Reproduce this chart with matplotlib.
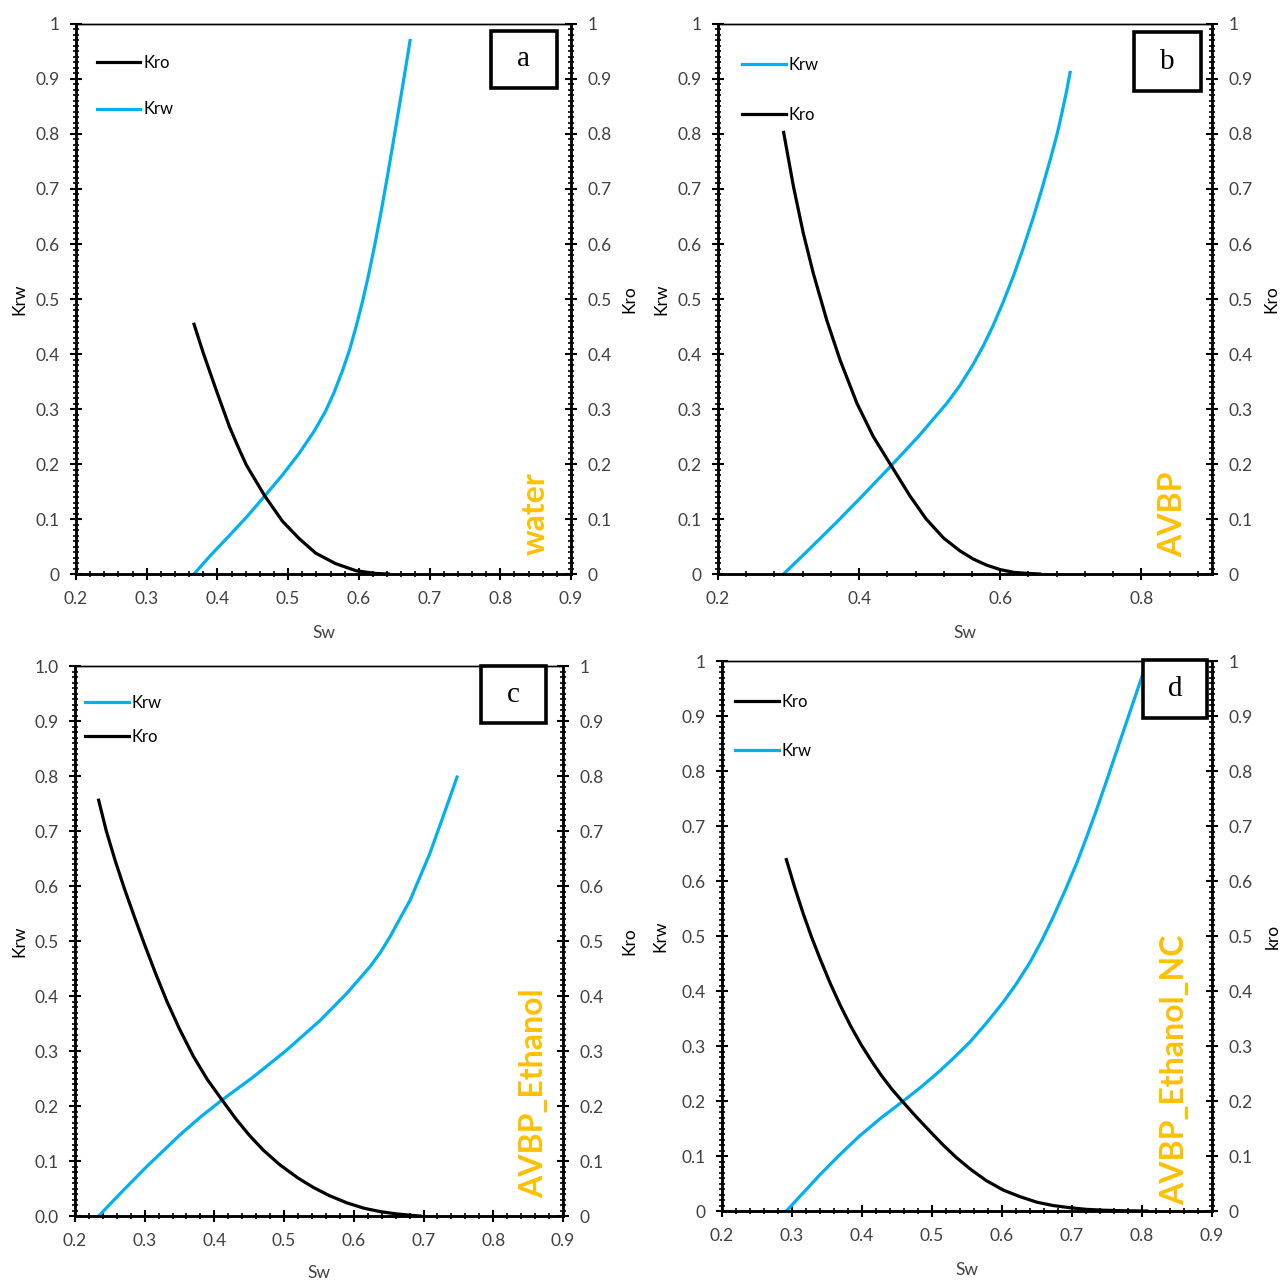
import matplotlib
matplotlib.use("Agg")
import matplotlib.pyplot as plt
from matplotlib.patches import Rectangle
from matplotlib.ticker import MultipleLocator, FormatStrFormatter, FuncFormatter

plt.rcParams['font.family'] = ['Lato', 'DejaVu Sans']

BLUE = '#00B0F0'
GOLD = '#FFC000'
INK = '#404040'

# (a) water
sw_krw_a = [0.367, 0.389, 0.417, 0.443, 0.467, 0.492, 0.516, 0.537, 0.553, 0.565,
            0.577, 0.587, 0.596, 0.605, 0.614, 0.623, 0.632, 0.641, 0.650, 0.659,
            0.668, 0.6725]
krw_a = [0.0, 0.032, 0.070, 0.106, 0.142, 0.180, 0.220, 0.260, 0.296, 0.330,
         0.370, 0.408, 0.449, 0.494, 0.545, 0.601, 0.662, 0.727, 0.795, 0.864,
         0.934, 0.970]
sw_kro_a = [0.367, 0.380, 0.399, 0.417, 0.429, 0.441, 0.467, 0.492, 0.516, 0.539,
            0.567, 0.596, 0.624, 0.642]
kro_a = [0.454, 0.402, 0.332, 0.268, 0.232, 0.198, 0.142, 0.096, 0.064, 0.038,
         0.019, 0.006, 0.001, 0.0]

# (b) AVBP
sw_krw_b = [0.293, 0.330, 0.368, 0.406, 0.444, 0.484, 0.524, 0.543, 0.562, 0.576,
            0.590, 0.604, 0.619, 0.633, 0.647, 0.659, 0.671, 0.681, 0.688, 0.694,
            0.699]
krw_b = [0.0, 0.046, 0.094, 0.144, 0.195, 0.250, 0.310, 0.343, 0.382, 0.415,
         0.452, 0.494, 0.543, 0.594, 0.649, 0.700, 0.754, 0.802, 0.842, 0.878,
         0.912]
sw_kro_b = [0.293, 0.307, 0.321, 0.335, 0.354, 0.373, 0.397, 0.420, 0.444, 0.472,
            0.495, 0.520, 0.543, 0.562, 0.581, 0.600, 0.619, 0.640, 0.656]
kro_b = [0.803, 0.704, 0.619, 0.547, 0.462, 0.389, 0.310, 0.250, 0.200, 0.142,
         0.100, 0.065, 0.042, 0.027, 0.016, 0.008, 0.003, 0.001, 0.0]

# (c) AVBP_Ethanol
sw_krw_c = [0.234, 0.265, 0.303, 0.351, 0.380, 0.411, 0.456, 0.504, 0.552, 0.590,
            0.623, 0.638, 0.652, 0.681, 0.709, 0.733, 0.748]
krw_c = [0.0, 0.041, 0.090, 0.148, 0.180, 0.211, 0.253, 0.302, 0.356, 0.405,
         0.453, 0.479, 0.508, 0.575, 0.659, 0.744, 0.798]
sw_kro_c = [0.234, 0.245, 0.258, 0.271, 0.285, 0.300, 0.316, 0.332, 0.350, 0.370,
            0.390, 0.411, 0.430, 0.450, 0.470, 0.494, 0.520, 0.542, 0.565, 0.590,
            0.615, 0.638, 0.660, 0.685, 0.695]
kro_c = [0.756, 0.700, 0.645, 0.595, 0.545, 0.493, 0.440, 0.390, 0.340, 0.290,
         0.248, 0.211, 0.178, 0.147, 0.120, 0.093, 0.069, 0.052, 0.037, 0.024,
         0.014, 0.008, 0.004, 0.001, 0.0]

# (d) AVBP_Ethanol_NC
sw_krw_d = [0.292, 0.316, 0.340, 0.368, 0.397, 0.428, 0.459, 0.483, 0.507, 0.530,
            0.554, 0.578, 0.602, 0.621, 0.640, 0.657, 0.673, 0.690, 0.707, 0.721,
            0.735, 0.747, 0.759, 0.771, 0.783, 0.795, 0.807]
krw_d = [0.0, 0.033, 0.066, 0.102, 0.137, 0.170, 0.200, 0.224, 0.250, 0.277,
         0.307, 0.342, 0.380, 0.414, 0.452, 0.492, 0.534, 0.582, 0.633, 0.680,
         0.729, 0.773, 0.818, 0.863, 0.908, 0.953, 0.998]
sw_kro_d = [0.292, 0.304, 0.316, 0.328, 0.340, 0.355, 0.369, 0.384, 0.399, 0.414,
            0.428, 0.443, 0.458, 0.477, 0.497, 0.516, 0.535, 0.556, 0.578, 0.602,
            0.626, 0.650, 0.673, 0.697, 0.721, 0.745, 0.769, 0.807]
kro_d = [0.639, 0.588, 0.541, 0.498, 0.459, 0.413, 0.374, 0.336, 0.302, 0.272,
         0.246, 0.221, 0.199, 0.172, 0.145, 0.120, 0.097, 0.075, 0.055, 0.038,
         0.026, 0.016, 0.010, 0.006, 0.003, 0.0015, 0.0006, 0.0]

panels = [
    dict(rect=[0.0593, 0.5526, 0.3864, 0.4287], letter='a', tag='water',
         krw=(sw_krw_a, krw_a), kro=(sw_kro_a, kro_a), order=['Kro', 'Krw'],
         xmaj=0.1, xmin=0.02, yfmt='g', rlab='Kro',
         box=(0.838, 0.884, 0.134, 0.103), leg=(0.042, 0.944), lsp=1.84,
         tagpos=(0.927, 0.035), ylx=-0.099, rlx=1.101, xly=-0.093),
    dict(rect=[0.5605, 0.5526, 0.3856, 0.4287], letter='b', tag='AVBP',
         krw=(sw_krw_b, krw_b), kro=(sw_kro_b, kro_b), order=['Krw', 'Kro'],
         xmaj=0.2, xmin=0.04, yfmt='g', rlab='Kro',
         box=(0.842, 0.878, 0.136, 0.107), leg=(0.049, 0.940), lsp=2.02,
         tagpos=(0.921, 0.031), ylx=-0.099, rlx=1.105, xly=-0.093),
    dict(rect=[0.0585, 0.0522, 0.3810, 0.4287], letter='c', tag='AVBP_Ethanol',
         krw=(sw_krw_c, krw_c), kro=(sw_kro_c, kro_c), order=['Krw', 'Kro'],
         xmaj=0.1, xmin=0.02, yfmt='%.1f', rlab='Kro',
         box=(0.832, 0.896, 0.133, 0.104), leg=(0.021, 0.948), lsp=1.12,
         tagpos=(0.939, 0.033), ylx=-0.098, rlx=1.119, xly=-0.089),
    dict(rect=[0.5636, 0.0561, 0.3825, 0.4287], letter='d', tag='AVBP_Ethanol_NC',
         krw=(sw_krw_d, krw_d), kro=(sw_kro_d, kro_d), order=['Kro', 'Krw'],
         xmaj=0.1, xmin=0.02, yfmt='g', rlab='kro',
         box=(0.859, 0.896, 0.131, 0.106), leg=(0.027, 0.940), lsp=1.96,
         tagpos=(0.924, 0.011), ylx=-0.110, rlx=1.108, xly=-0.093),
]


def style_axis(ax):
    for side in ['left', 'right', 'bottom']:
        ax.spines[side].set_linewidth(1.8)
    ax.spines['top'].set_linewidth(1.0)
    ax.tick_params(which='both', direction='inout', colors='black',
                   labelcolor=INK, labelsize=12.5, pad=8)
    ax.tick_params(which='major', length=8, width=1.5)
    ax.tick_params(which='minor', length=4.5, width=1.2)


fig = plt.figure(figsize=(12.81, 12.83), dpi=100)

for p in panels:
    ax = fig.add_axes(p['rect'])
    ax2 = ax.twinx()

    l_krw, = ax.plot(*p['krw'], color=BLUE, lw=2.3, label='Krw',
                     solid_joinstyle='round')
    l_kro, = ax2.plot(*p['kro'], color='black', lw=2.3, label='Kro',
                      solid_joinstyle='round')

    ax.set_xlim(0.2, 0.9)
    ax.set_ylim(0, 1)
    ax2.set_ylim(0, 1)
    ax.xaxis.set_major_locator(MultipleLocator(p['xmaj']))
    ax.xaxis.set_minor_locator(MultipleLocator(p['xmin']))
    ax.xaxis.set_major_formatter(FuncFormatter(lambda v, pos: f'{v:.1f}'))
    for a in (ax, ax2):
        a.yaxis.set_major_locator(MultipleLocator(0.1))
        a.yaxis.set_minor_locator(MultipleLocator(0.01))
        style_axis(a)
    if p['yfmt'] == 'g':
        ax.yaxis.set_major_formatter(FuncFormatter(lambda v, pos: f'{round(v, 1):g}'))
    else:
        ax.yaxis.set_major_formatter(FormatStrFormatter(p['yfmt']))
    ax2.yaxis.set_major_formatter(FuncFormatter(lambda v, pos: f'{round(v, 1):g}'))

    ax.set_xlabel('Sw', fontsize=12.5, color=INK)
    ax.set_ylabel('Krw', fontsize=12.5, color='black')
    ax2.set_ylabel(p['rlab'], fontsize=12.5, color='black')
    ax.xaxis.set_label_coords(0.5, p['xly'])
    ax.yaxis.set_label_coords(p['ylx'], 0.5)
    ax2.yaxis.set_label_coords(p['rlx'], 0.5)

    lines = {'Krw': l_krw, 'Kro': l_kro}
    handles = [lines[k] for k in p['order']]
    ax2.legend(handles, p['order'], loc='upper left', bbox_to_anchor=p['leg'],
               frameon=False, fontsize=12, handlelength=2.6, handletextpad=0.2,
               borderpad=0, borderaxespad=0, labelspacing=p['lsp'])

    bx, by, bw, bh = p['box']
    ax2.add_patch(Rectangle((bx, by), bw, bh, transform=ax2.transAxes,
                            facecolor='white', edgecolor='black', lw=2.6,
                            zorder=10, clip_on=False))
    ax2.text(bx + bw / 2, by + bh / 2, p['letter'], transform=ax2.transAxes,
             ha='center', va='center', fontsize=21, zorder=11,
             family=['Liberation Serif', 'DejaVu Serif'])

    ax2.text(*p['tagpos'], p['tag'], transform=ax2.transAxes, rotation=90,
             ha='center', va='bottom', color=GOLD, fontsize=23,
             fontweight='bold', zorder=9)

fig.savefig('out.png', dpi=100)
